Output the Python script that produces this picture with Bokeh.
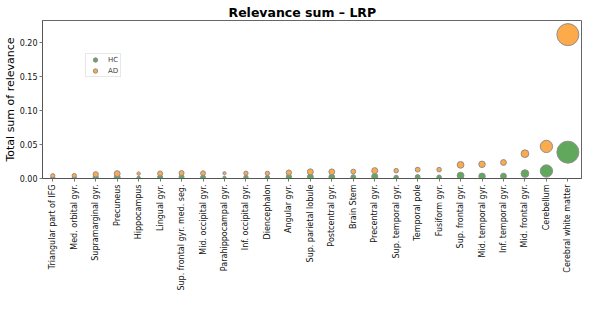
import math
from bokeh.plotting import figure
from bokeh.models import (ColumnDataSource, Range1d, FixedTicker, PrintfTickFormatter,
                          Legend, LegendItem)
from bokeh.embed import file_html
from bokeh.resources import INLINE

regions = ["Triangular part of IFG", "Med. orbital gyr.", "Supramarginal gyr.", "Precuneus",
           "Hippocampus", "Lingual gyr.", "Sup. frontal gyr. med. seg.", "Mid. occipital gyr.",
           "Parahippocampal gyr.", "Inf. occipital gyr.", "Diencephalon", "Angular gyr.",
           "Sup. parietal lobule", "Postcentral gyr.", "Brain Stem", "Precentral gyr.",
           "Sup. temporal gyr.", "Temporal pole", "Fusiform gyr.", "Sup. frontal gyr.",
           "Mid. temporal gyr.", "Inf. temporal gyr.", "Mid. frontal gyr.", "Cerebellum",
           "Cerebral white matter"]
relevance_hc = [0.0012, 0.0012, 0.0018, 0.0020, 0.0010, 0.0018, 0.0020, 0.0018, 0.0012,
                0.0018, 0.0016, 0.0022, 0.0024, 0.0022, 0.0020, 0.0030, 0.0015, 0.0022,
                0.0018, 0.0043, 0.0032, 0.0036, 0.0072, 0.0110, 0.0386]
relevance_ad = [0.0041, 0.0043, 0.0062, 0.0072, 0.0072, 0.0074, 0.0080, 0.0078, 0.0078,
                0.0078, 0.0076, 0.0086, 0.0098, 0.0098, 0.0102, 0.0115, 0.0115, 0.0130,
                0.0130, 0.0200, 0.0208, 0.0235, 0.0364, 0.0470, 0.2110]
# relative region weight (marker area, largest = 1)
region_weight = [0.036, 0.038, 0.058, 0.072, 0.024, 0.052, 0.052, 0.048, 0.021, 0.038,
                 0.038, 0.058, 0.074, 0.070, 0.048, 0.076, 0.043, 0.049, 0.043, 0.095,
                 0.087, 0.070, 0.124, 0.313, 1.000]
y_ticks = [0.0, 0.05, 0.10, 0.15, 0.20]

MAX_D = 22.0
idx = list(range(len(regions)))
sizes = [MAX_D * math.sqrt(w) for w in region_weight]
src_hc = ColumnDataSource(dict(x=idx, y=relevance_hc, s=sizes))
src_ad = ColumnDataSource(dict(x=idx, y=relevance_ad, s=sizes))

x0, x1 = -0.48, 24.635
y0, y1 = 0.0, 0.2317

p = figure(width=582, height=293, output_backend="svg", toolbar_location=None,
           x_range=Range1d(x0, x1), y_range=Range1d(y0, y1),
           min_border_left=39, min_border_right=1, min_border_top=20, min_border_bottom=112)
p.grid.visible = False
p.outline_line_color = "#666666"
p.background_fill_color = "white"
p.border_fill_color = "white"

p.title.text = "Relevance sum \u2013 LRP"
p.title.align = "left"
p.title.offset = 186
p.title.standoff = 1
p.title.text_font = "DejaVu Sans"
p.title.text_font_size = "12.5px"
p.title.text_font_style = "bold"
p.title.text_color = "black"

r_hc = p.scatter("x", "y", size="s", source=src_hc, fill_color="#5fa85c",
                 line_color="#8f8f8f", line_width=1)
r_ad = p.scatter("x", "y", size="s", source=src_ad, fill_color="#fdaa4a",
                 line_color="#8f8f8f", line_width=1)

for ax in (p.xaxis[0], p.yaxis[0]):
    ax.axis_line_color = "#555555"
    ax.major_tick_line_color = "#777777"
    ax.major_tick_out = 3
    ax.major_tick_in = 0
    ax.minor_tick_line_color = None
    ax.major_label_text_font = "DejaVu Sans"
    ax.major_label_text_font_size = "8px"
    ax.major_label_text_color = "#111111"
    ax.major_label_standoff = 2

p.xaxis.major_label_standoff = 3
p.xaxis.ticker = FixedTicker(ticks=idx)
p.xaxis.major_label_overrides = {i: r for i, r in enumerate(regions)}
p.xaxis.major_label_orientation = math.pi / 2
p.yaxis.ticker = FixedTicker(ticks=y_ticks)
p.yaxis.formatter = PrintfTickFormatter(format="%.2f")
p.yaxis.axis_label = "Total sum of relevance"
p.yaxis.axis_label_text_font = "DejaVu Sans"
p.yaxis.axis_label_text_font_size = "11px"
p.yaxis.axis_label_text_font_style = "normal"
p.yaxis.axis_label_text_color = "black"
p.yaxis.axis_label_standoff = 0

legend = Legend(items=[LegendItem(label="HC", renderers=[r_hc]),
                       LegendItem(label="AD", renderers=[r_ad])],
                location=(43, 101), orientation="vertical")
legend.label_text_font = "DejaVu Sans"
legend.label_text_font_size = "7px"
legend.label_height = 11
legend.label_width = 12
legend.glyph_height = 11
legend.glyph_width = 18
legend.label_standoff = 4
legend.spacing = 0
legend.padding = 0
legend.margin = 0
legend.border_line_color = "#d0d0d0"
legend.border_line_width = 1
legend.background_fill_alpha = 1.0
p.add_layout(legend, "center")

open("out.html", "w").write(file_html(p, INLINE))
